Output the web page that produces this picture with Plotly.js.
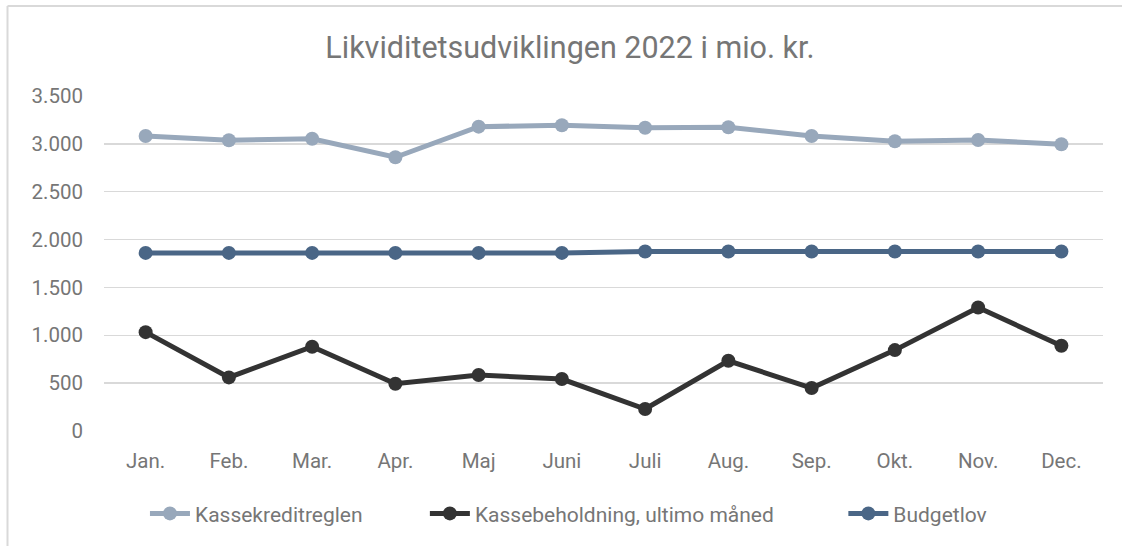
<!DOCTYPE html>
<html>
<head>
<meta charset="utf-8">
<script src="https://cdn.plot.ly/plotly-3.0.1.min.js"></script>
<style>html,body{margin:0;padding:0;background:#fff;}#chart{width:1122px;height:546px;}</style>
</head>
<body>
<div id="chart"></div>
<script>
const months = ["Jan.","Feb.","Mar.","Apr.","Maj","Juni","Juli","Aug.","Sep.","Okt.","Nov.","Dec."];
const kassekreditreglen = [3082,3037,3054,2860,3180,3194,3169,3173,3082,3027,3041,2996];
const kassebeholdning = [1033,560,880,494,585,543,230,734,449,845,1290,891];
const budgetlov = [1861,1861,1861,1861,1861,1861,1875,1875,1875,1875,1875,1875];
const seriesNames = ["Kassekreditreglen","Kassebeholdning, ultimo måned","Budgetlov"];
const yTicks = [0,500,1000,1500,2000,2500,3000,3500];

const font = "Roboto, 'Liberation Sans', sans-serif";
function tr(name, y, color, legendId){
  return {x: months, y: y, name: name, type: 'scatter', mode: 'lines+markers', legend: legendId,
    line: {color: color, width: 5}, marker: {color: color, size: 14}};
}
const data = [
  tr(seriesNames[0], kassekreditreglen, '#98A8BB', 'legend'),
  tr(seriesNames[1], kassebeholdning, '#333333', 'legend2'),
  tr(seriesNames[2], budgetlov, '#4A6686', 'legend3')
];
function leg(x){
  return {orientation: 'h', x: x, xanchor: 'left', y: -0.247, yanchor: 'middle',
    font: {size: 21, color: '#767676'}, itemwidth: 40, bgcolor: 'rgba(0,0,0,0)'};
}
const layout = {
  width: 1122, height: 546,
  margin: {l: 104, r: 19, t: 96, b: 115},
  paper_bgcolor: '#ffffff', plot_bgcolor: '#ffffff',
  separators: ',.',
  font: {family: font, color: '#767676', size: 21},
  title: {text: 'Likviditetsudviklingen 2022 i mio. kr.', x: 0.508, xanchor: 'center', y: 1 - 47/546, yanchor: 'middle',
    font: {family: font, size: 30.5, color: '#767676'}},
  xaxis: {type: 'category', range: [-0.5, 11.5], showgrid: false, zeroline: false, showline: false,
    ticks: '', ticklabelstandoff: 15, tickfont: {size: 20.5, color: '#767676'}},
  yaxis: {range: [0, 3500], tickvals: yTicks, tickformat: ',d', showgrid: true, gridcolor: '#D9D9D9', gridwidth: 1.5,
    zeroline: false, showline: false, ticks: '', ticklabelstandoff: 20, tickfont: {size: 20.5, color: '#767676'}},
  showlegend: true,
  legend: leg(0.041),
  legend2: leg(0.3212),
  legend3: leg(0.7401),
  shapes: [
    {type: 'line', xref: 'paper', yref: 'paper', x0: -0.0966, x1: -0.0966, y0: 1.2684, y1: -0.35, line: {color: '#D9D9D9', width: 2}},
    {type: 'line', xref: 'paper', yref: 'paper', x0: -0.0966, x1: 1.03, y0: 1.2684, y1: 1.2684, line: {color: '#D9D9D9', width: 2}}
  ]
};
Plotly.newPlot('chart', data, layout, {displayModeBar: false, staticPlot: true});
</script>
</body>
</html>
